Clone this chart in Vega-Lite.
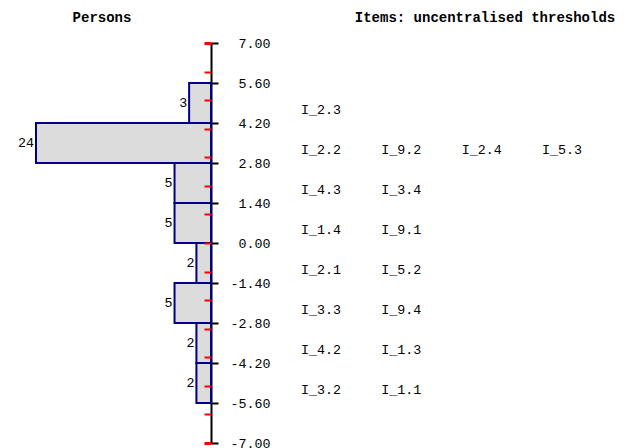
{
  "$schema": "https://vega.github.io/schema/vega-lite/v6.json",
  "width": 630,
  "height": 448,
  "autosize": "none",
  "padding": 0,
  "background": "white",
  "config": {"view": {"stroke": null}, "axis": {"grid": false}},
  "datasets": {
    "bins": [
      {"lo": 4.2, "hi": 5.6, "mid": 4.9, "n": 3},
      {"lo": 2.8, "hi": 4.2, "mid": 3.5, "n": 24},
      {"lo": 1.4, "hi": 2.8, "mid": 2.1, "n": 5},
      {"lo": 0, "hi": 1.4, "mid": 0.7, "n": 5},
      {"lo": -1.4, "hi": 0, "mid": -0.7, "n": 2},
      {"lo": -2.8, "hi": -1.4, "mid": -2.1, "n": 5},
      {"lo": -4.2, "hi": -2.8, "mid": -3.5, "n": 2},
      {"lo": -5.6, "hi": -4.2, "mid": -4.9, "n": 2}
    ],
    "items": [
      {"item": "I_2.3", "level": 4.9, "col": 0},
      {"item": "I_2.2", "level": 3.5, "col": 0},
      {"item": "I_9.2", "level": 3.5, "col": 1},
      {"item": "I_2.4", "level": 3.5, "col": 2},
      {"item": "I_5.3", "level": 3.5, "col": 3},
      {"item": "I_4.3", "level": 2.1, "col": 0},
      {"item": "I_3.4", "level": 2.1, "col": 1},
      {"item": "I_1.4", "level": 0.7, "col": 0},
      {"item": "I_9.1", "level": 0.7, "col": 1},
      {"item": "I_2.1", "level": -0.7, "col": 0},
      {"item": "I_5.2", "level": -0.7, "col": 1},
      {"item": "I_3.3", "level": -2.1, "col": 0},
      {"item": "I_9.4", "level": -2.1, "col": 1},
      {"item": "I_4.2", "level": -3.5, "col": 0},
      {"item": "I_1.3", "level": -3.5, "col": 1},
      {"item": "I_3.2", "level": -4.9, "col": 0},
      {"item": "I_1.1", "level": -4.9, "col": 1}
    ]
  },
  "resolve": {"scale": {"x": "independent"}, "axis": {"x": "independent", "y": "independent"}},
  "layer": [
    {
      "data": {"name": "bins"},
      "mark": {"type": "rect", "fill": "#dcdcdc", "stroke": "#000080", "strokeWidth": 2},
      "encoding": {
        "x": {
          "field": "n", "type": "quantitative",
          "scale": {"domain": [0, 24], "range": [211, 36]},
          "axis": {"orient": "top", "title": "Persons", "domain": false, "ticks": false, "labels": false,
                   "titleX": 101.5, "titleY": 21, "titleAlign": "center", "titleBaseline": "alphabetic",
                   "titleFont": "Liberation Mono", "titleFontSize": 14, "titleFontWeight": "bold", "titleColor": "black"}
        },
        "x2": {"datum": 0},
        "y": {
          "field": "lo", "type": "quantitative",
          "scale": {"domain": [-7, 7], "range": [443, 43], "nice": false, "zero": false},
          "axis": {"orient": "right", "offset": -419,
                   "values": [-7, -5.6, -4.2, -2.8, -1.4, 0, 1.4, 2.8, 4.2, 5.6, 7],
                   "labelExpr": "replace(format(datum.value, '.2f'), '\u2212', '-')",
                   "domainColor": "black", "domainWidth": 2, "tickColor": "black", "tickWidth": 2, "tickSize": 7,
                   "labelAlign": "right", "labelPadding": 52, "labelFont": "Liberation Mono", "labelFontSize": 13.33,
                   "labelColor": "black", "labelBaseline": "middle", "title": null, "zindex": 0,
                   "labelOverlap": false, "labelBound": false, "labelFlush": false}
        },
        "y2": {"field": "hi"}
      }
    },
    {
      "data": {"name": "bins"},
      "mark": {"type": "text", "align": "right", "baseline": "middle", "dx": -2, "font": "Liberation Mono", "fontSize": 13.33, "color": "black"},
      "encoding": {
        "x": {"field": "n", "type": "quantitative", "scale": {"domain": [0, 24], "range": [211, 36]}, "axis": null},
        "y": {
          "field": "mid", "type": "quantitative",
          "scale": {"domain": [-7, 7], "range": [443, 43], "nice": false, "zero": false},
          "axis": {"orient": "left", "offset": -211, "values": [-7, -6, -5, -4, -3, -2, -1, 0, 1, 2, 3, 4, 5, 6, 7],
                   "labels": false, "domain": false, "tickColor": "#ff0000",
                   "tickWidth": {"condition": {"test": "abs(datum.value) == 7", "value": 3}, "value": 2},
                   "tickSize": 7, "title": null, "zindex": 1}
        },
        "text": {"field": "n", "type": "quantitative"}
      }
    },
    {
      "data": {"name": "items"},
      "mark": {"type": "text", "align": "left", "baseline": "middle", "dy": 7, "font": "Liberation Mono", "fontSize": 13.33, "color": "black"},
      "encoding": {
        "x": {
          "field": "col", "type": "quantitative",
          "scale": {"domain": [0, 3], "range": [301, 542]},
          "axis": {"orient": "top", "title": "Items: uncentralised thresholds", "domain": false, "ticks": false, "labels": false,
                   "titleX": 484.5, "titleY": 21, "titleAlign": "center", "titleBaseline": "alphabetic",
                   "titleFont": "Liberation Mono", "titleFontSize": 14, "titleFontWeight": "bold", "titleColor": "black"}
        },
        "y": {"field": "level", "type": "quantitative", "scale": {"domain": [-7, 7], "range": [443, 43], "nice": false, "zero": false}, "axis": null},
        "text": {"field": "item"}
      }
    }
  ]
}
